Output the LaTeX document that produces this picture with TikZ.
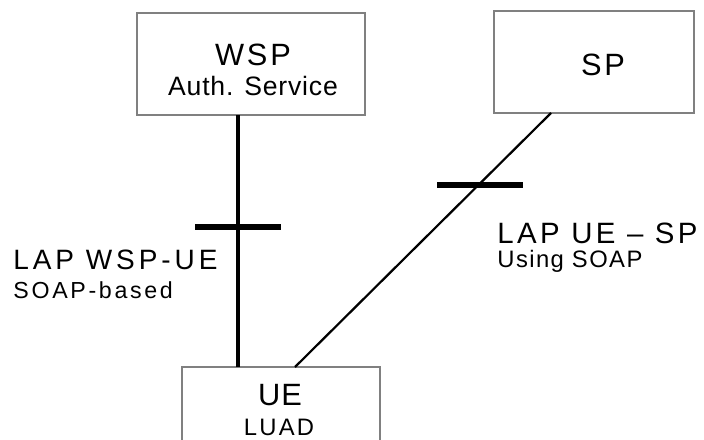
\documentclass[tikz,border=0pt]{standalone}
\usepackage{fontspec}
\setmainfont{Liberation Sans}
\newfontfamily\ftight[LetterSpace=3]{Liberation Sans}
\newfontfamily\fsoft[LetterSpace=6]{Liberation Sans}
\newfontfamily\fmedium[LetterSpace=9.5]{Liberation Sans}
\newfontfamily\fbroad[LetterSpace=11.5]{Liberation Sans}
\newfontfamily\fwide[LetterSpace=14]{Liberation Sans}
\tikzset{
  box/.style={draw=gray, line width=0.75pt, rectangle, inner sep=0pt},
  bar/.style={fill=black, rectangle, inner sep=0pt, minimum width=43pt, minimum height=3.2pt},
  lbl/.style={inner sep=0pt, anchor=base},
  side/.style={inner sep=0pt, anchor=base west}
}
\begin{document}
\begin{tikzpicture}[x=0.5pt, y=-0.5pt]
      \useasboundingbox (0,0) rectangle (704,439);
      \clip (0,0) rectangle (704,439);
      \draw
        (251,64) node[box, minimum width=114pt, minimum height=51pt] (wsp){}
        (594,62) node[box, minimum width=100pt, minimum height=51pt] (sp){}
        (281,427) node[box, minimum width=99pt, minimum height=60pt] (ue){};
      \draw
        (253,65) node[lbl, font=\fmedium\fontsize{15.4}{18}\selectfont] (wspname){WSP}
        (253,95) node[lbl, font=\ftight\fontsize{13.3}{16}\selectfont] (wspsub){Auth. Service}
        (603,75) node[lbl, font=\fmedium\fontsize{15.4}{18}\selectfont] (spname){SP}
        (280,405) node[lbl, font=\ftight\fontsize{15.4}{18}\selectfont] (uename){UE}
        (279,435) node[lbl, font=\fmedium\fontsize{11.9}{14}\selectfont] (uesub){LUAD};
      \coordinate (wspfoot) at (238,115);
      \coordinate (uetop) at (238,367);
      \coordinate (spfoot) at (551,113);
      \coordinate (uetop2) at (295,367);
      \begin{scope}[-]
        \draw[line width=1.7pt] (wspfoot) to (uetop);
        \draw[line width=1.1pt] (spfoot) to (uetop2);
      \end{scope}
      \node[bar] (cut1) at (238,226.7) {};
      \node[bar] (cut2) at (480,185) {};
      \draw
        (13,269) node[side, font=\fwide\fontsize{14}{17}\selectfont] (lap1){LAP WSP-UE}
        (13,298) node[side, font=\fbroad\fontsize{11.6}{14}\selectfont] (lap1sub){SOAP-based}
        (497,243) node[side, font=\fbroad\fontsize{14.7}{17}\selectfont] (lap2){LAP UE – SP}
        (497,267) node[side, font=\fsoft\fontsize{11.9}{14}\selectfont] (lap2sub){Using SOAP};
    \end{tikzpicture}
\end{document}
